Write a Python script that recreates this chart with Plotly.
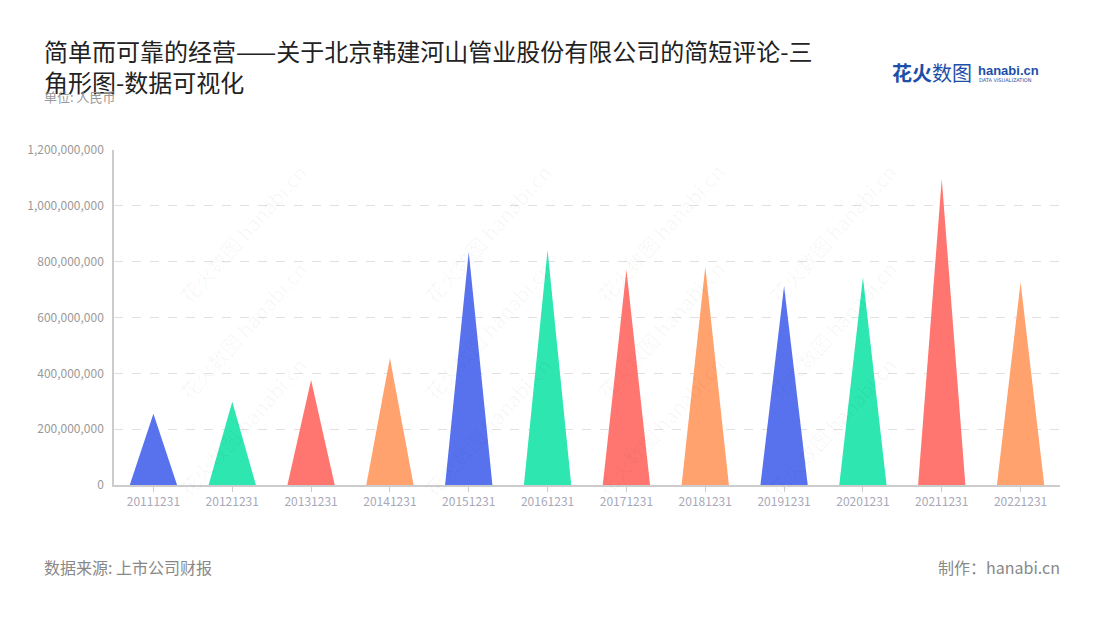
import plotly.graph_objects as go

categories = ["20111231", "20121231", "20131231", "20141231", "20151231", "20161231",
              "20171231", "20181231", "20191231", "20201231", "20211231", "20221231"]
values = [255e6, 298e6, 376e6, 455e6, 835e6, 841e6,
          771e6, 781e6, 712e6, 744e6, 1096e6, 726e6]
palette = ["#5872EE", "#2DE6B0", "#FF7670", "#FFA26E"]
y_ticks = [0, 200e6, 400e6, 600e6, 800e6, 1000e6, 1200e6]

HALF = 0.3
FONT = "Noto Sans CJK SC"

# screen geometry (page body has an 8px margin)
PL, PT, PW, PH = 114, 150, 946, 335


def px(xs):
    return (xs - PL) / PW


def py(ys):
    return (PT + PH - ys) / PH


fig = go.Figure()
for i, (c, v) in enumerate(zip(categories, values)):
    fig.add_trace(go.Scatter(
        x=[i - HALF, i, i + HALF, i - HALF],
        y=[0, v, 0, 0],
        mode="lines",
        fill="toself",
        fillcolor=palette[i % 4],
        line=dict(width=0, color=palette[i % 4]),
        hoverinfo="text",
        text=f"{c}: {v:,.0f}",
        showlegend=False,
    ))

# watermarks
wm_pos = [(170, 155), (170, 330), (170, 505), (415, 155), (415, 330), (415, 505),
          (660, 155), (660, 330), (660, 505), (905, 155), (905, 330), (905, 505)]
for (sx, sy) in wm_pos:
    fig.add_annotation(xref="paper", yref="paper", x=px(sx), y=py(sy),
                       text="花火数图 hanabi.cn", showarrow=False, textangle=-48,
                       font=dict(family=FONT, size=20, color="rgba(0,0,0,0.035)"))

fig.update_layout(
    width=1084, height=604,
    paper_bgcolor="white", plot_bgcolor="white",
    margin=dict(l=106, r=32, t=142, b=127),
    font=dict(family=FONT),
    xaxis=dict(
        range=[-0.5, 11.5],
        tickmode="array", tickvals=list(range(len(categories))), ticktext=categories,
        showgrid=False, zeroline=False,
        showline=True, linecolor="#cccccc", linewidth=1.5,
        ticks="outside", ticklen=5, tickcolor="#cccccc",
        tickfont=dict(family=FONT, size=12, color="#a8a8b8"),
        fixedrange=True,
    ),
    yaxis=dict(
        range=[0, 1200e6],
        tickmode="array", tickvals=y_ticks,
        ticktext=[f"{t:,.0f}" for t in y_ticks],
        showgrid=True, gridcolor="#e0e0e0", griddash="dash", gridwidth=1,
        zeroline=False,
        showline=True, linecolor="#cccccc", linewidth=1.5,
        ticks="", ticklabelstandoff=6,
        tickfont=dict(family=FONT, size=12, color="#999999"),
        fixedrange=True,
    ),
)

# title
fig.add_annotation(xref="paper", yref="paper", x=px(42), y=py(31),
                   xanchor="left", yanchor="top", align="left",
                   text="简单而可靠的经营——关于北京韩建河山管业股份有限公司的简短评论-三<br>角形图-数据可视化",
                   showarrow=False,
                   font=dict(family=FONT, size=24, color="#222222"))
# unit
fig.add_annotation(xref="paper", yref="paper", x=px(42), y=py(85),
                   xanchor="left", yanchor="top", text="单位: 人民币", showarrow=False,
                   font=dict(family=FONT, size=13, color="#999999"))
# footer
fig.add_annotation(xref="paper", yref="paper", x=px(42), y=py(553),
                   xanchor="left", yanchor="top", text="数据来源: 上市公司财报", showarrow=False,
                   font=dict(family=FONT, size=16, color="#888888"))
fig.add_annotation(xref="paper", yref="paper", x=px(1062), y=py(553),
                   xanchor="right", yanchor="top", text="制作：hanabi.cn", showarrow=False,
                   font=dict(family=FONT, size=16, color="#888888"))
# logo
fig.add_annotation(xref="paper", yref="paper", x=px(890), y=py(56),
                   xanchor="left", yanchor="top", text="<b>花火</b>数图", showarrow=False,
                   font=dict(family=FONT, size=20, color="#1d4fa8"))
fig.add_annotation(xref="paper", yref="paper", x=px(976), y=py(61),
                   xanchor="left", yanchor="top", text="<b>hanabi.cn</b>", showarrow=False,
                   font=dict(family="Liberation Sans", size=13, color="#1d4fa8"))
fig.add_annotation(xref="paper", yref="paper", x=px(977), y=py(75),
                   xanchor="left", yanchor="top", text="DATA VISUALIZATION", showarrow=False,
                   font=dict(family="DejaVu Sans", size=5, color="#1d4fa8"))

fig.write_html("out.html")
